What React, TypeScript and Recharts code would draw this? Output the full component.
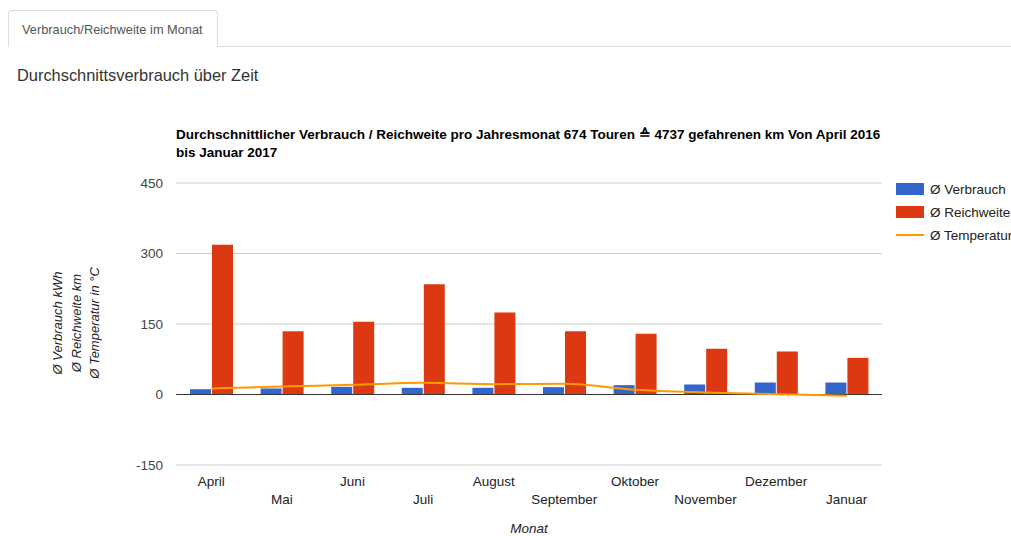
import React from 'react';
import {
  ComposedChart,
  Bar,
  Line,
  XAxis,
  YAxis,
  CartesianGrid,
  ReferenceLine,
} from 'recharts';

const months = ['April', 'Mai', 'Juni', 'Juli', 'August', 'September', 'Oktober', 'November', 'Dezember', 'Januar'];
const verbrauch = [11.3, 12.8, 16.3, 14.2, 14.2, 15.6, 19.9, 21.3, 25.5, 25.5];
const reichweite = [318.5, 134.7, 154.7, 234.7, 174.5, 134.7, 129, 97.2, 91.5, 78];
const temperatur = [12.8, 17, 20.5, 24.8, 22, 22.7, 10, 4.3, 0.7, -2.8];
const yTicks = [-150, 0, 150, 300, 450];

const series = [
  { key: 'verbrauch', name: 'Ø Verbrauch', color: '#3366cc', type: 'bar' },
  { key: 'reichweite', name: 'Ø Reichweite', color: '#dc3912', type: 'bar' },
  { key: 'temperatur', name: 'Ø Temperatur', color: '#ff9900', type: 'line' },
];

const yLabelLines = ['Ø Verbrauch kWh', 'Ø Reichweite km', 'Ø Temperatur in °C'];

const data = months.map((m, i) => ({
  month: m,
  verbrauch: verbrauch[i],
  reichweite: reichweite[i],
  temperatur: temperatur[i],
}));

const font = 'Arial, "Liberation Sans", sans-serif';

// staggered month labels, like google charts does when space is tight
const MonthTick = (props: any) => {
  const { x, y, payload, index } = props;
  const dy = index % 2 === 0 ? 21 : 39;
  return (
    <text x={x} y={y + dy} textAnchor="middle" fontSize={13.5} fill="#222" fontFamily={font}>
      {payload.value}
    </text>
  );
};

const YTitle = () => (
  <text transform="translate(62,323) rotate(-90)" textAnchor="middle" fontSize={13}
    fontStyle="italic" fill="#222" fontFamily={font}>
    {yLabelLines.map((l, i) => (
      <tspan key={l} x={0} y={i * 18.5}>{l}</tspan>
    ))}
  </text>
);

const XTitle = (props: any) => {
  const vb = props.viewBox || {};
  return (
    <text x={vb.x + vb.width / 2} y={533} textAnchor="middle" fontSize={13.5}
      fontStyle="italic" fill="#222" fontFamily={font}>
      Monat
    </text>
  );
};

export default function App() {
  return (
    <div style={{ position: 'absolute', left: 0, top: 0, width: 1011, height: 536, overflow: 'hidden', background: '#fff', fontFamily: font }}>
      <div style={{
        position: 'absolute', left: 8, top: 10, width: 210, height: 37,
        border: '1px solid #ddd', borderBottom: 'none', borderRadius: '4px 4px 0 0',
        background: '#fff', boxSizing: 'border-box',
      }}>
        <div style={{ position: 'absolute', left: 13, top: 11, fontSize: 12.8, color: '#555', whiteSpace: 'nowrap' }}>
          Verbrauch/Reichweite im Monat
        </div>
      </div>
      <div style={{ position: 'absolute', left: 218, top: 46, width: 793, height: 1, background: '#ddd' }} />
      <div style={{ position: 'absolute', left: 17, top: 66, fontSize: 16.4, color: '#333', whiteSpace: 'nowrap' }}>
        Durchschnittsverbrauch über Zeit
      </div>

      <div style={{ position: 'absolute', left: 176, top: 126, fontSize: 13.5, fontWeight: 'bold', color: '#000', lineHeight: '18px', whiteSpace: 'nowrap' }}>
        <div>Durchschnittlicher Verbrauch / Reichweite pro Jahresmonat 674 Touren ≙ 4737 gefahrenen km Von April 2016</div>
        <div>bis Januar 2017</div>
      </div>

      <div style={{ position: 'absolute', left: 0, top: 0 }}>
        <ComposedChart width={1011} height={536} data={data}
          margin={{ top: 183, right: 129, bottom: 0, left: 0 }}
          barSize={21} barGap={1}>
          <CartesianGrid vertical={false} stroke="#ccc" />
          <XAxis dataKey="month" height={71} axisLine={false} tickLine={false}
            tickSize={0} tickMargin={0} interval={0} tick={<MonthTick />}
            label={<XTitle />} />
          <YAxis width={176} domain={[-150, 450]} ticks={yTicks} axisLine={false}
            tickLine={false} tickSize={0} tickMargin={13}
            tick={{ fontSize: 13.5, fill: '#444', fontFamily: font }}
            label={<YTitle />} />
          <ReferenceLine y={0} stroke="#333" strokeWidth={1} />
          <Bar dataKey="verbrauch" name="Ø Verbrauch" fill="#3366cc" isAnimationActive={false} />
          <Bar dataKey="reichweite" name="Ø Reichweite" fill="#dc3912" isAnimationActive={false} />
          <Line dataKey="temperatur" name="Ø Temperatur" type="monotone" stroke="#ff9900"
            strokeWidth={2} dot={false} isAnimationActive={false} />
        </ComposedChart>
      </div>

      {series.map((s, i) => (
        <div key={s.key} style={{ position: 'absolute', left: 896, top: 181 + i * 23, height: 16, display: 'flex', alignItems: 'center', whiteSpace: 'nowrap' }}>
          {s.type === 'bar' ? (
            <div style={{ width: 28, height: 12, background: s.color }} />
          ) : (
            <div style={{ width: 28, height: 2, background: s.color }} />
          )}
          <span style={{ marginLeft: 6, fontSize: 13.5, color: '#222' }}>{s.name}</span>
        </div>
      ))}
    </div>
  );
}
